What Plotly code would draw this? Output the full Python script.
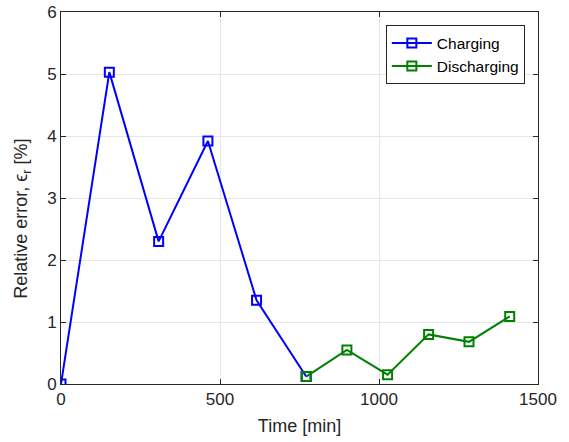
import plotly.graph_objects as go

charge_t = [0, 152, 307, 462, 615, 771]
charge_e = [0.0, 5.03, 2.30, 3.92, 1.35, 0.12]
dis_t = [771, 899, 1027, 1156, 1283, 1411]
dis_e = [0.12, 0.55, 0.15, 0.80, 0.68, 1.09]

x_ticks = [0, 500, 1000, 1500]
y_ticks = [0, 1, 2, 3, 4, 5, 6]

FONT = "Liberation Sans, Arial, sans-serif"
AX = "#262626"

fig = go.Figure()
fig.add_trace(go.Scatter(x=charge_t, y=charge_e, mode="lines+markers", name="Charging",
                         line=dict(color="#0000ff", width=2),
                         marker=dict(symbol="square-open", size=9, color="#0000ff", line=dict(width=2))))
fig.add_trace(go.Scatter(x=dis_t, y=dis_e, mode="lines+markers", name="Discharging",
                         line=dict(color="#008000", width=2),
                         marker=dict(symbol="square-open", size=9, color="#008000", line=dict(width=2))))

axis_common = dict(showline=True, linecolor=AX, linewidth=1, mirror="allticks",
                   ticks="inside", ticklen=5, tickcolor=AX, showgrid=True,
                   gridcolor="#e6e6e6", gridwidth=1, zeroline=False, automargin=False,
                   tickfont=dict(family=FONT, size=17, color=AX))

fig.update_layout(
    width=569, height=442,
    margin=dict(l=61, r=31, t=12, b=58, autoexpand=False),
    paper_bgcolor="white", plot_bgcolor="white",
    font=dict(family=FONT, color=AX),
    xaxis=dict(range=[0, 1500], tickvals=x_ticks,
               title=dict(text="Time [min]", font=dict(family=FONT, size=18, color=AX), standoff=10),
               **axis_common),
    yaxis=dict(range=[0, 6], tickvals=y_ticks, **axis_common),
    legend=dict(x=0.681, y=0.964, xanchor="left", yanchor="top",
                bordercolor=AX, borderwidth=1, bgcolor="white",
                font=dict(family=FONT, size=15.5, color="#000000"),
                tracegroupgap=0, itemwidth=40),
    showlegend=True,
)

fig.add_annotation(text="Relative error, ϵ<sub>r</sub> [%]", textangle=-90,
                   xref="paper", yref="paper", x=-0.08, y=0.444,
                   xanchor="center", yanchor="middle", showarrow=False,
                   font=dict(family=FONT, size=18, color=AX))

fig.write_html("out.html", config={"displayModeBar": False},
               post_script="document.body.style.margin='0';document.body.style.overflow='hidden';")
